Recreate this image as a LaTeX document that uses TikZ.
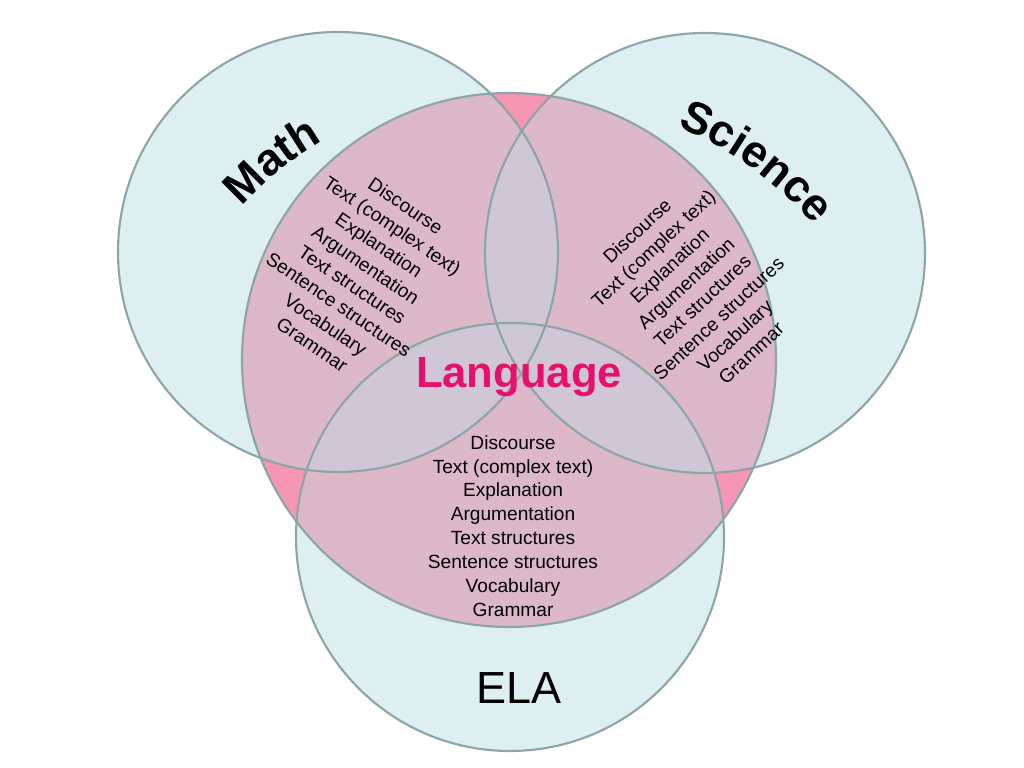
\documentclass[tikz,border=0pt]{standalone}
\usepackage{fontspec}
\setmainfont{Liberation Sans}
\usepackage{tikz}
\usetikzlibrary{calc,decorations.text}
\definecolor{circteal}{RGB}{221,239,240}
\definecolor{langpink}{RGB}{245,150,181}
\definecolor{overlapmauve}{RGB}{220,184,201}
\definecolor{overlapgray}{RGB}{207,199,213}
\definecolor{ringline}{RGB}{140,165,168}
\definecolor{langtext}{RGB}{232,16,110}

\begin{document}
\begin{tikzpicture}[
    x=0.025cm, y=0.025cm,
    ring/.style={draw=ringline, line width=1.5pt},
    wordlist/.style={align=center, inner sep=0pt, font=\fontsize{13.6}{17}\selectfont},
    arcword/.style={decorate, decoration={text along path, text align=center, text={|\fontsize{32}{38}\selectfont\bfseries|#1}}},
]
\useasboundingbox (0,0) rectangle (1024,768);
\coordinate (mathc) at (338,516);
\coordinate (scic) at (705,515);
\coordinate (elac) at (510,231);
\coordinate (langc) at (509,408);
\coordinate (matharc) at (490,338);
\coordinate (sciarc) at (540,309);

% circles
\fill[circteal] (mathc) circle[radius=220] (scic) circle[radius=220] (elac) circle[radius=214];
\fill[langpink] (langc) circle[radius=267];
\begin{scope}
  \clip (langc) circle[radius=267];
  \fill[overlapmauve] (mathc) circle[radius=220] (scic) circle[radius=220] (elac) circle[radius=214];
  \begin{scope}
    \clip (mathc) circle[radius=220];
    \fill[overlapgray] (scic) circle[radius=220] (elac) circle[radius=214];
  \end{scope}
  \begin{scope}
    \clip (scic) circle[radius=220];
    \fill[overlapgray] (elac) circle[radius=214];
  \end{scope}
\end{scope}
\draw[ring] (langc) circle[radius=267];
\draw[ring] (mathc) circle[radius=220];
\draw[ring] (scic) circle[radius=220];
\draw[ring] (elac) circle[radius=214];

% subject names
\path[arcword=Math] ($(matharc)+(154:334)$) arc[start angle=154, end angle=104, radius=334];
\path[arcword=Science] ($(sciarc)+(84:360)$) arc[start angle=84, end angle=24, radius=360];
\node[font=\fontsize{32}{38}\selectfont] (ela) at (519,80) {ELA};
\node[font=\fontsize{31}{36}\selectfont\bfseries, text=langtext] (lang) at (519,391) {Language};

% language lists
\node[wordlist, rotate=-34] (mathlist) at (359,493) {Discourse\\Text (complex text)\\Explanation\\Argumentation\\Text structures\\Sentence structures\\Vocabulary\\Grammar};
\node[wordlist, rotate=43] (scilist) at (694,476) {Discourse\\Text (complex text)\\Explanation\\Argumentation\\Text structures\\Sentence structures\\Vocabulary\\Grammar};
\node[wordlist] (elalist) at (513,242) {Discourse\\Text (complex text)\\Explanation\\Argumentation\\Text structures\\Sentence structures\\Vocabulary\\Grammar};
\end{tikzpicture}
\end{document}
